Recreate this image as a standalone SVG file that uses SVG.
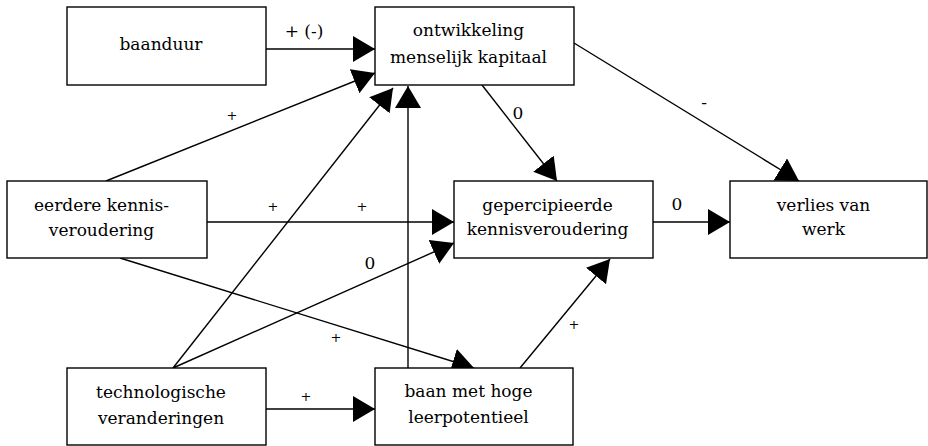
<svg xmlns="http://www.w3.org/2000/svg" width="928" height="446" viewBox="0 0 928 446">
<style>
.box{fill:#fff;stroke:#000;stroke-width:1.4}
text{font-family:'DejaVu Serif',serif;fill:#000;text-anchor:middle}
.t{font-size:17px}
.e{stroke:#000;stroke-width:1.4;fill:none;marker-end:url(#ah)}
.l{font-size:17px}
.p{font-size:13px}
</style>
<defs>
<marker id="ah" markerUnits="userSpaceOnUse" markerWidth="24" markerHeight="28" refX="22" refY="13" orient="auto">
<path d="M0,0 L22,13 L0,26 z" fill="#000"/>
</marker>
</defs>
<rect width="928" height="446" fill="#fff"/>
<g id="connectors">
<line class="e" x1="266" y1="49" x2="375" y2="49"/>
<line class="e" x1="106" y1="181" x2="375" y2="73"/>
<line class="e" x1="173" y1="368" x2="393" y2="88"/>
<line class="e" x1="408" y1="368" x2="408" y2="86"/>
<line class="e" x1="482" y1="85" x2="557" y2="181"/>
<line class="e" x1="574" y1="43" x2="799" y2="181"/>
<line class="e" x1="207" y1="222" x2="454" y2="222"/>
<line class="e" x1="653" y1="222" x2="730" y2="222"/>
<line class="e" x1="173" y1="368" x2="454" y2="243"/>
<line class="e" x1="120" y1="258" x2="474" y2="368"/>
<line class="e" x1="266" y1="409" x2="375" y2="409"/>
<line class="e" x1="520" y1="368" x2="610" y2="259"/>
<text class="l" x="304" y="37">+ (-)</text>
<text class="p" x="232" y="120">+</text>
<text class="p" x="273" y="211">+</text>
<text class="p" x="362" y="211">+</text>
<text class="l" x="518" y="119">0</text>
<text class="l" x="704" y="108">-</text>
<text class="l" x="677" y="210">0</text>
<text class="l" x="370" y="269">0</text>
<text class="p" x="336" y="342">+</text>
<text class="p" x="306" y="401">+</text>
<text class="p" x="574" y="329">+</text>
</g>
<g id="baanduur">
<rect class="box" x="67" y="7" width="199" height="78"/>
<text class="t" x="161" y="50">baanduur</text>
</g>
<g id="ontwikkeling">
<rect class="box" x="375" y="7" width="199" height="78"/>
<text class="t" x="468.5" y="36">ontwikkeling</text>
<text class="t" x="468.5" y="63">menselijk kapitaal</text>
</g>
<g id="eerdere">
<rect class="box" x="7" y="181" width="200" height="77"/>
<text class="t" x="101.5" y="211">eerdere kennis-</text>
<text class="t" x="101.5" y="236">veroudering</text>
</g>
<g id="gepercipieerde">
<rect class="box" x="454" y="181" width="199" height="77"/>
<text class="t" x="547.5" y="211">gepercipieerde</text>
<text class="t" x="547.5" y="235">kennisveroudering</text>
</g>
<g id="verlies">
<rect class="box" x="730" y="181" width="197" height="77"/>
<text class="t" x="823.5" y="211">verlies van</text>
<text class="t" x="823.5" y="235">werk</text>
</g>
<g id="technologische">
<rect class="box" x="67" y="368" width="199" height="77"/>
<text class="t" x="161" y="398">technologische</text>
<text class="t" x="161" y="424">veranderingen</text>
</g>
<g id="baan">
<rect class="box" x="375" y="368" width="198" height="77"/>
<text class="t" x="468.5" y="397">baan met hoge</text>
<text class="t" x="468.5" y="423">leerpotentieel</text>
</g>
</svg>
